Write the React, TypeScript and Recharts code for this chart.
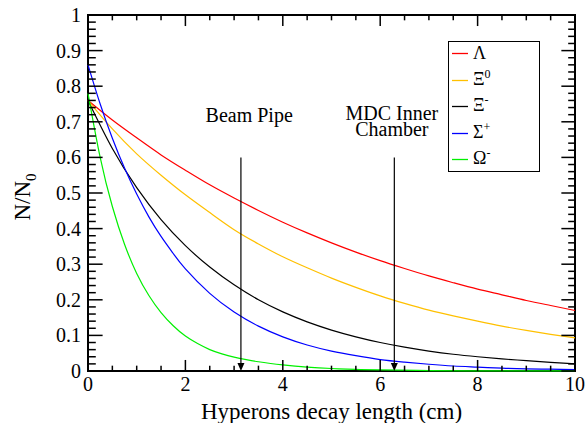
import React from 'react';
import { LineChart, Line, XAxis, YAxis, ReferenceLine, ReferenceArea, ReferenceDot, Legend, Label } from 'recharts';

// decay length in cm
const xCoarse = [0, 0.5, 1, 1.5, 2, 2.5, 3, 3.5, 4, 4.5, 5, 5.5, 6, 6.5, 7, 7.5, 8, 8.5, 9, 9.5, 10];
const xSigma = [0, 0.25, 0.5, 0.75, 1, 1.25, 1.5, 1.75, 2, 2.5, 3, 3.5, 4, 4.5, 5, 5.5, 6, 6.5, 7, 7.5, 8, 8.5, 9, 9.5, 10];
const xOmega = [0, 0.25, 0.5, 0.75, 1, 1.25, 1.5, 1.75, 2, 2.25, 2.5, 2.75, 3, 3.25, 3.5, 3.75, 4, 4.5, 5, 5.5, 6, 7, 8, 9, 10];

// N/N0
const lambdaN = [0.76, 0.705, 0.655, 0.607, 0.564, 0.523, 0.486, 0.451, 0.418, 0.388, 0.36, 0.334, 0.31, 0.288, 0.267, 0.248, 0.23, 0.214, 0.198, 0.184, 0.17];
const xi0N = [0.76, 0.68, 0.61, 0.55, 0.495, 0.445, 0.397, 0.357, 0.321, 0.29, 0.261, 0.235, 0.211, 0.19, 0.171, 0.155, 0.14, 0.126, 0.114, 0.103, 0.093];
const ximN = [0.76, 0.625, 0.515, 0.425, 0.352, 0.292, 0.242, 0.2, 0.166, 0.138, 0.115, 0.096, 0.08, 0.067, 0.056, 0.047, 0.04, 0.034, 0.029, 0.024, 0.02];
const sigmaN = [0.86, 0.75, 0.654, 0.57, 0.497, 0.433, 0.378, 0.33, 0.287, 0.218, 0.166, 0.126, 0.096, 0.073, 0.056, 0.043, 0.032, 0.025, 0.019, 0.014, 0.011, 0.008, 0.006, 0.005, 0.004];
const omegaN = [0.78, 0.6, 0.462, 0.356, 0.274, 0.212, 0.164, 0.127, 0.098, 0.077, 0.06, 0.048, 0.039, 0.032, 0.026, 0.021, 0.017, 0.011, 0.007, 0.0045, 0.003, 0.0012, 0.0005, 0.0002, 0.0001];

const xTicks = [0, 2, 4, 6, 8, 10];
const xMinor = [0.5, 1, 1.5, 2.5, 3, 3.5, 4.5, 5, 5.5, 6.5, 7, 7.5, 8.5, 9, 9.5];
const yTicks = [0, 0.1, 0.2, 0.3, 0.4, 0.5, 0.6, 0.7, 0.8, 0.9, 1];
const yMinor = yTicks.slice(0, 10).flatMap((v) => [0.02, 0.04, 0.06, 0.08].map((d) => +(v + d).toFixed(2)));

const beamPipeX = 3.14;
const mdcX = 6.29;
const arrowTop = 0.6;

const toPoints = (xs: number[], ys: number[]) => xs.map((x, i) => ({ x, y: ys[i] }));

const series = [
  { key: 'lambda', name: 'Λ', sup: '', color: '#ff0000', data: toPoints(xCoarse, lambdaN) },
  { key: 'xi0', name: 'Ξ', sup: '0', color: '#ffc000', data: toPoints(xCoarse, xi0N) },
  { key: 'xim', name: 'Ξ', sup: '-', color: '#000000', data: toPoints(xCoarse, ximN) },
  { key: 'sigma', name: 'Σ', sup: '+', color: '#0000ff', data: toPoints(xSigma, sigmaN) },
  { key: 'omega', name: 'Ω', sup: '-', color: '#00f000', data: toPoints(xOmega, omegaN) },
];

const FONT = "'Liberation Serif', 'Times New Roman', Times, serif";

const XTick = (p: any) => (
  <text x={p.x} y={p.y + 14} textAnchor="middle" fontSize={20} style={{ fontFamily: FONT }} fill="#000">
    {p.payload.value}
  </text>
);

const YTick = (p: any) => (
  <text x={p.x} y={p.y + 7} textAnchor="end" fontSize={20} style={{ fontFamily: FONT }} fill="#000">
    {p.payload.value}
  </text>
);

const ArrowHead = (p: any) => (
  <path d={`M${p.cx - 3.5},${p.cy - 8} L${p.cx + 3.5},${p.cy - 8} L${p.cx},${p.cy} Z`} fill="#000" />
);

const LegendBox = () => (
  <div style={{ position: 'relative', border: '1.5px solid #000', background: '#fff', width: 90, height: 129, fontFamily: FONT, fontSize: 18, color: '#000' }}>
    {series.map((s, i) => (
      <div key={s.key} style={{ position: 'absolute', left: 3, top: Math.round(1 + i * 26.5), height: 20, display: 'flex', alignItems: 'center' }}>
        <svg width={16} height={20} style={{ marginRight: 5 }}>
          <line x1={0} x2={16} y1={10.5} y2={10.5} stroke={s.color} strokeWidth={1.3} />
        </svg>
        <span style={{ lineHeight: '20px' }}>
          {s.name}
          {s.sup && <span style={{ fontSize: 12, position: 'relative', top: -7 }}>{s.sup}</span>}
        </span>
      </div>
    ))}
  </div>
);

export default function App() {
  return (
    <div style={{ position: 'absolute', left: 0, top: 0, background: '#fff', fontFamily: FONT }}>
      <style>{`svg text { font-family: ${FONT}; }`}</style>
      <LineChart width={587} height={423} margin={{ top: 15, right: 12, left: 0, bottom: 0 }} style={{ fontFamily: FONT }}>
        <XAxis
          dataKey="x"
          type="number"
          domain={[0, 10]}
          ticks={xTicks}
          axisLine={false}
          tickLine={false}
          height={52}
          tickSize={6}
          tickMargin={0}
          tick={XTick}
        >
          <Label value="Hyperons decay length (cm)" position="insideBottom" offset={4} style={{ fill: '#000', fontSize: 23, fontFamily: FONT }} />
        </XAxis>
        <YAxis
          type="number"
          domain={[0, 1]}
          ticks={yTicks}
          axisLine={false}
          tickLine={false}
          width={88}
          tickSize={6}
          tickMargin={1}
          tick={YTick}
        >
          <Label
            content={() => (
              <text transform="translate(30,197) rotate(-90)" textAnchor="middle" fontSize={23} fill="#000">
                N/N
                <tspan fontSize={15} dy={6}>0</tspan>
              </text>
            )}
          />
        </YAxis>

        {series.map((s) => (
          <Line
            key={s.key}
            data={s.data}
            dataKey="y"
            type="natural"
            stroke={s.color}
            strokeWidth={1.2}
            dot={false}
            activeDot={false}
            isAnimationActive={false}
          />
        ))}

        {/* arrows */}
        {[beamPipeX, mdcX].map((x) => (
          <ReferenceLine key={`arrow-${x}`} segment={[{ x, y: arrowTop }, { x, y: 0.02 }]} stroke="#000" strokeWidth={1.2} />
        ))}
        {[beamPipeX, mdcX].map((x) => (
          <ReferenceDot key={`head-${x}`} x={x} y={0} r={0} shape={ArrowHead} />
        ))}
        <ReferenceDot
          x={3.31}
          y={0.7}
          r={0}
          shape={(p: any) => (
            <text x={p.cx} y={p.cy} textAnchor="middle" fontSize={20} fill="#000">Beam Pipe</text>
          )}
        />
        <ReferenceDot
          x={6.24}
          y={0.705}
          r={0}
          shape={(p: any) => (
            <text x={p.cx} y={p.cy} textAnchor="middle" fontSize={20} fill="#000">
              <tspan x={p.cx}>MDC Inner</tspan>
              <tspan x={p.cx} dy={16}>Chamber</tspan>
            </text>
          )}
        />

        {/* inward ticks on all four sides */}
        {yTicks.map((v) => (
          <ReferenceLine key={`yl${v}`} segment={[{ x: 0, y: v }, { x: 0.3, y: v }]} stroke="#000" strokeWidth={1.5} />
        ))}
        {yMinor.map((v) => (
          <ReferenceLine key={`yml${v}`} segment={[{ x: 0, y: v }, { x: 0.16, y: v }]} stroke="#000" strokeWidth={1.5} />
        ))}
        {yTicks.map((v) => (
          <ReferenceLine key={`yr${v}`} segment={[{ x: 10, y: v }, { x: 9.72, y: v }]} stroke="#000" strokeWidth={1.5} />
        ))}
        {yMinor.map((v) => (
          <ReferenceLine key={`ymr${v}`} segment={[{ x: 10, y: v }, { x: 9.86, y: v }]} stroke="#000" strokeWidth={1.5} />
        ))}
        {xTicks.map((v) => (
          <ReferenceLine key={`xb${v}`} segment={[{ x: v, y: 0 }, { x: v, y: 0.031 }]} stroke="#000" strokeWidth={1.5} />
        ))}
        {xMinor.map((v) => (
          <ReferenceLine key={`xmb${v}`} segment={[{ x: v, y: 0 }, { x: v, y: 0.015 }]} stroke="#000" strokeWidth={1.5} />
        ))}
        {xTicks.map((v) => (
          <ReferenceLine key={`xt${v}`} segment={[{ x: v, y: 1 }, { x: v, y: 0.969 }]} stroke="#000" strokeWidth={1.5} />
        ))}
        {xMinor.map((v) => (
          <ReferenceLine key={`xmt${v}`} segment={[{ x: v, y: 1 }, { x: v, y: 0.985 }]} stroke="#000" strokeWidth={1.5} />
        ))}

        <ReferenceArea x1={0} x2={10} y1={0} y2={1} fill="none" stroke="#000" strokeWidth={2} />

        <Legend
          layout="vertical"
          align="center"
          verticalAlign="middle"
          content={() => <LegendBox />}
          wrapperStyle={{ position: 'absolute', left: 448, top: 41, width: 93, height: 132 }}
        />
      </LineChart>
    </div>
  );
}
